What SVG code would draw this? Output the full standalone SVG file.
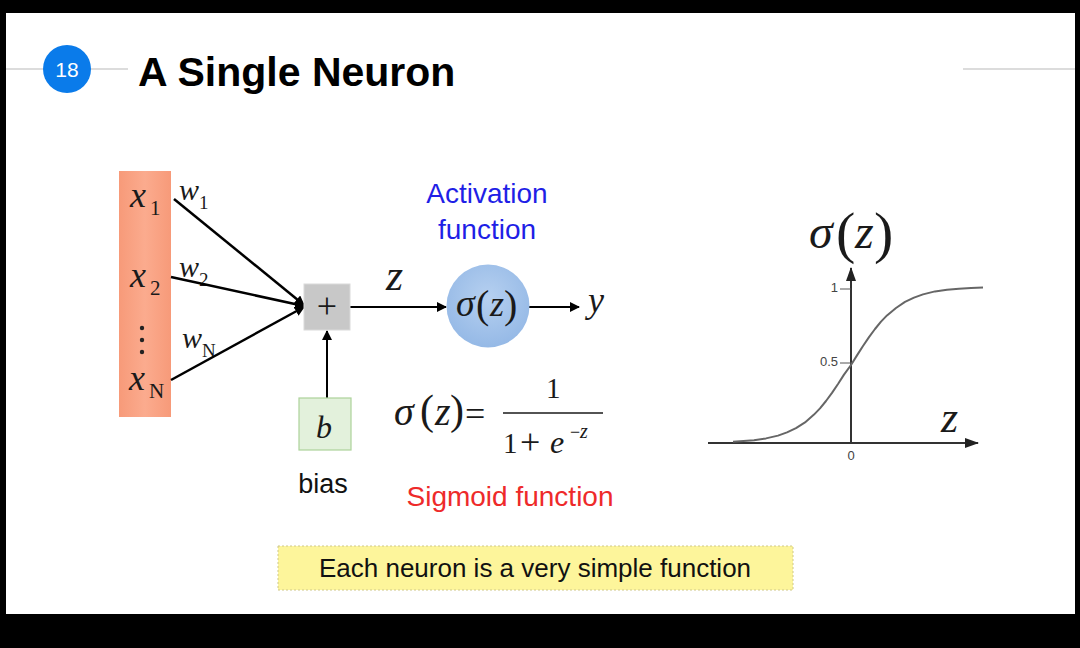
<svg xmlns="http://www.w3.org/2000/svg" width="1080" height="648" viewBox="0 0 1080 648">
<style>
.mi{font-family:"Liberation Serif",serif;font-style:italic;fill:#1a1a1a}
.mr{font-family:"Liberation Serif",serif;fill:#1a1a1a}
.sans{font-family:"Liberation Sans",Arial,sans-serif}
.edge{stroke:#000;stroke-width:2.5;fill:none}
.tick{font-family:"Liberation Sans",Arial,sans-serif;font-size:13px;fill:#444}
</style>
<defs>
<marker id="ah" viewBox="0 0 10 10" refX="9" refY="5" markerWidth="10" markerHeight="10" markerUnits="userSpaceOnUse" orient="auto">
<path d="M0,0 L10,5 L0,10 z" fill="#000"/>
</marker>
<marker id="ahg" viewBox="0 0 14 10" refX="13" refY="5" markerWidth="14" markerHeight="10" markerUnits="userSpaceOnUse" orient="auto">
<path d="M0,0 L14,5 L0,10 z" fill="#222"/>
</marker>
<radialGradient id="blue" cx="0.5" cy="0.4" r="0.6">
<stop offset="0" stop-color="#b6d0f0"/>
<stop offset="1" stop-color="#95b9e6"/>
</radialGradient>
<linearGradient id="orange" x1="0" y1="0" x2="1" y2="0">
<stop offset="0" stop-color="#f79a79"/>
<stop offset="0.5" stop-color="#fbab8e"/>
<stop offset="1" stop-color="#f79a79"/>
</linearGradient>
</defs>
<rect x="0" y="0" width="1080" height="648" fill="#000"/>
<rect x="6" y="13" width="1069" height="601" fill="#fff"/>

<g id="header">
<line x1="6" y1="69" x2="128" y2="69" stroke="#dcdcdc" stroke-width="2"/>
<line x1="963" y1="69" x2="1075" y2="69" stroke="#dcdcdc" stroke-width="2"/>
<circle cx="67" cy="69" r="24" fill="#0a7bea"/>
<text x="67" y="77" text-anchor="middle" class="sans" font-size="21" fill="#fff">18</text>
<text x="138" y="86" class="sans" font-size="41" font-weight="bold" fill="#000">A Single Neuron</text>
</g>

<g id="inputs">
<rect x="119" y="171" width="52" height="246" fill="url(#orange)"/>
<text x="130" y="207" class="mi" font-size="36">x</text><text x="150" y="215" class="mr" font-size="21">1</text>
<text x="130" y="287" class="mi" font-size="36">x</text><text x="150" y="295" class="mr" font-size="21">2</text>
<circle cx="142" cy="328" r="2.2" fill="#222"/>
<circle cx="142" cy="340" r="2.2" fill="#222"/>
<circle cx="142" cy="352" r="2.2" fill="#222"/>
<text x="129" y="390" class="mi" font-size="36">x</text><text x="149" y="398" class="mr" font-size="21">N</text>
</g>

<g id="weights">
<text x="179" y="200" class="mi" font-size="30">w</text><text x="199" y="209" class="mr" font-size="19">1</text>
<text x="179" y="277" class="mi" font-size="30">w</text><text x="199" y="286" class="mr" font-size="19">2</text>
<text x="182" y="348" class="mi" font-size="30">w</text><text x="202" y="357" class="mr" font-size="19">N</text>
</g>

<g id="connectors">
<line x1="174" y1="199" x2="304" y2="305" class="edge" marker-end="url(#ah)"/>
<line x1="171" y1="277" x2="304" y2="306" class="edge" marker-end="url(#ah)"/>
<line x1="171" y1="380" x2="304" y2="307" class="edge" marker-end="url(#ah)"/>
<line x1="327" y1="398" x2="327" y2="331" stroke="#000" stroke-width="2" marker-end="url(#ah)"/>
<line x1="350" y1="307" x2="446" y2="307" stroke="#000" stroke-width="2" marker-end="url(#ah)"/>
<line x1="529" y1="307" x2="579" y2="307" stroke="#000" stroke-width="2" marker-end="url(#ah)"/>
</g>

<g id="sum">
<rect x="304" y="284" width="46" height="46" fill="#c8c8c8" stroke="#dadada" stroke-width="1"/>
<text x="327" y="318" text-anchor="middle" class="mr" font-size="36" fill="#333">+</text>
</g>

<g id="bias">
<rect x="299" y="398" width="52" height="52" fill="#e3f1dc" stroke="#acd39a" stroke-width="1.2"/>
<text x="324" y="438" text-anchor="middle" class="mi" font-size="32">b</text>
<text x="323" y="493" text-anchor="middle" class="sans" font-size="27" fill="#111">bias</text>
</g>

<text x="386" y="290" class="mi" font-size="44">z</text>

<g id="activation">
<text x="487" y="203" text-anchor="middle" class="sans" font-size="28" fill="#1f1fe6">Activation</text>
<text x="487" y="239" text-anchor="middle" class="sans" font-size="28" fill="#1f1fe6">function</text>
<circle cx="488" cy="306" r="41.5" fill="url(#blue)"/>
<text x="456" y="316" class="mi" font-size="38">σ</text>
<text x="476" y="318" class="mr" font-size="40">(</text>
<text x="490" y="316" class="mi" font-size="36">z</text>
<text x="504" y="318" class="mr" font-size="40">)</text>
</g>

<text x="588" y="312" class="mi" font-size="36">y</text>

<g id="formula">
<text x="394" y="425" class="mi" font-size="40">σ</text>
<text x="420" y="424" class="mr" font-size="42">(</text>
<text x="435" y="425" class="mi" font-size="40">z</text>
<text x="450" y="424" class="mr" font-size="42">)</text>
<text x="465" y="426" class="mr" font-size="36">=</text>
<line x1="503" y1="413" x2="603" y2="413" stroke="#1a1a1a" stroke-width="1.5"/>
<text x="546" y="398" class="mr" font-size="29">1</text>
<text x="503" y="453" class="mr" font-size="29">1</text>
<text x="520" y="454" class="mr" font-size="36">+</text>
<text x="550" y="453" class="mi" font-size="32">e</text>
<text x="570" y="438" class="mr" font-size="18">−</text>
<text x="580" y="438" class="mi" font-size="20">z</text>
<text x="510" y="506" text-anchor="middle" class="sans" font-size="28" fill="#ee2a2a">Sigmoid function</text>
</g>

<g id="graph">
<line x1="708" y1="443" x2="978" y2="443" stroke="#333" stroke-width="2" marker-end="url(#ahg)"/>
<line x1="851" y1="443" x2="851" y2="268" stroke="#333" stroke-width="2" marker-end="url(#ahg)"/>
<line x1="840" y1="289" x2="851" y2="289" stroke="#555" stroke-width="1"/>
<line x1="840" y1="363" x2="851" y2="363" stroke="#555" stroke-width="1"/>
<text x="838" y="292" text-anchor="end" class="tick">1</text>
<text x="838" y="366" text-anchor="end" class="tick">0.5</text>
<text x="851" y="460" text-anchor="middle" class="tick">0</text>
<polyline fill="none" stroke="#666" stroke-width="2" stroke-linejoin="round" points="733,441.8 754,440.2 766,438.4 778,435.6 787,432.4 796,428.1 805,422.4 814,414.6 820,408.4 826,401 832,392.9 838,384 844,374.6 851,365 857,355.4 863,346 869,337.1 875,329 881,321.6 887,315.4 896,308 905,301.9 914,297.6 923,294.4 935,291.4 947,289.8 959,288.7 971,288 983,287.6"/>
<text x="809" y="248" class="mi" font-size="48">σ</text>
<text x="836" y="252" class="mr" font-size="58">(</text>
<text x="855" y="248" class="mi" font-size="48">z</text>
<text x="874" y="252" class="mr" font-size="58">)</text>
<text x="941" y="432" class="mi" font-size="44">z</text>
</g>

<g id="note">
<rect x="278" y="546" width="515" height="44" fill="#fdf59b" stroke="#cfc88a" stroke-width="1" stroke-dasharray="2,2"/>
<text x="535" y="577" text-anchor="middle" class="sans" font-size="26" fill="#111">Each neuron is a very simple function</text>
</g>
</svg>
